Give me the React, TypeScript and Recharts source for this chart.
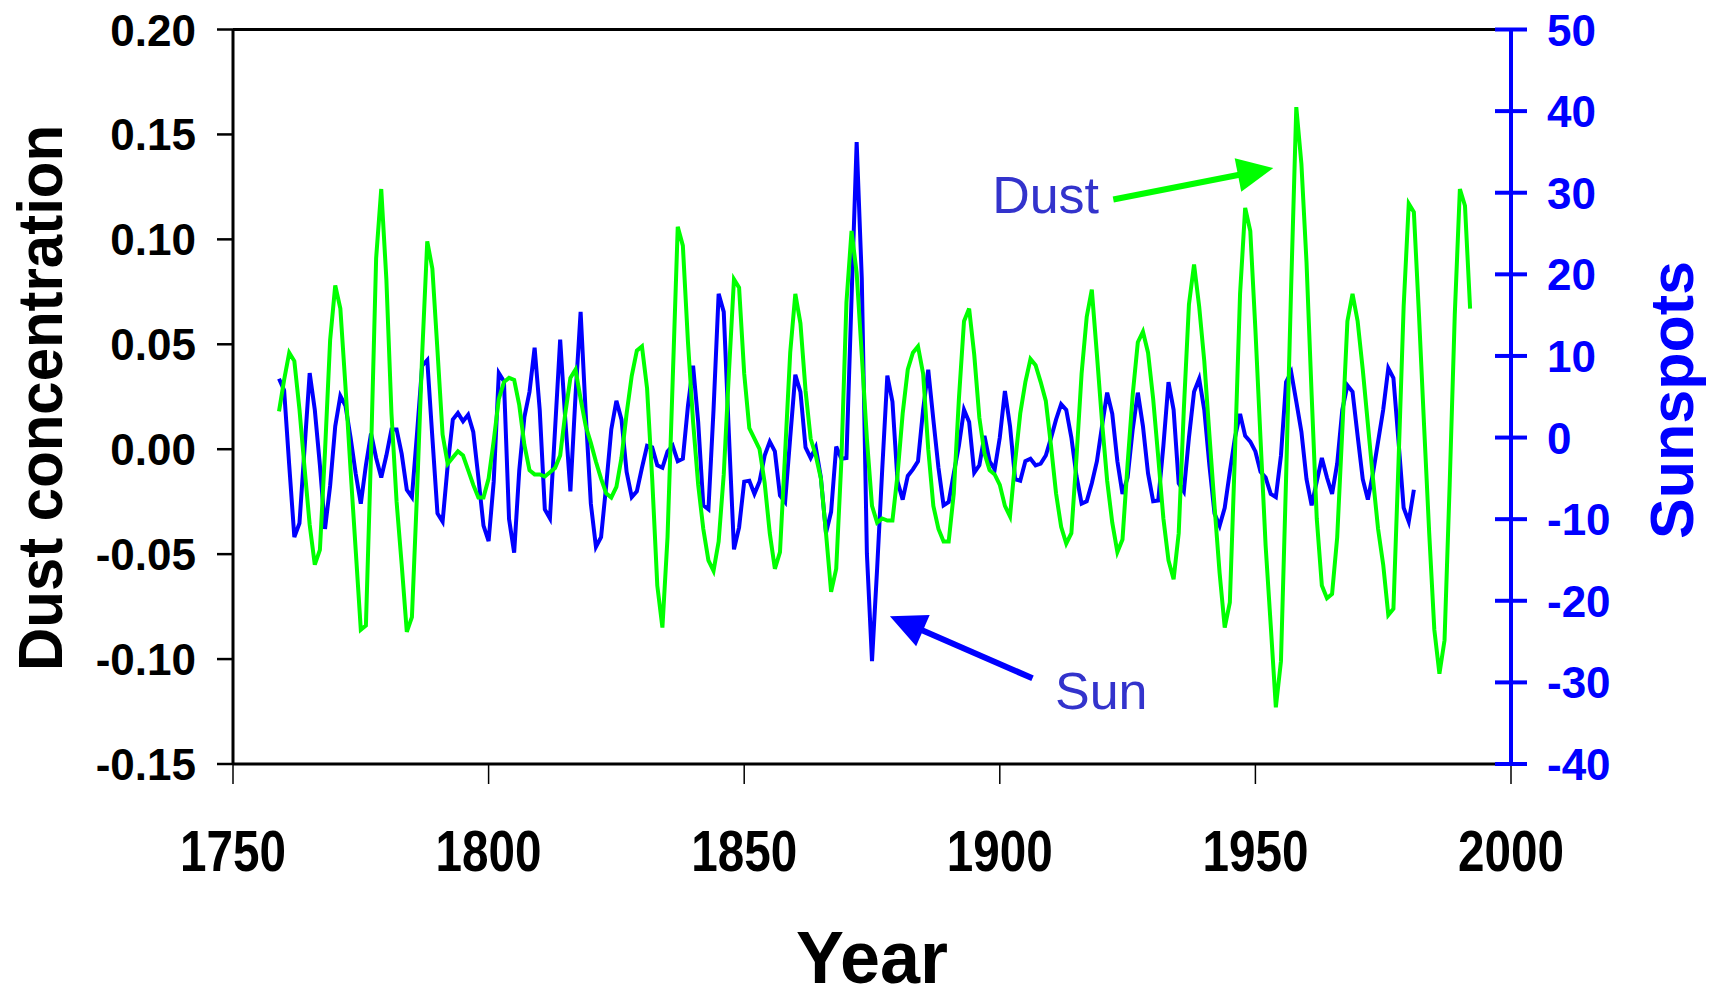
import {
  LineChart,
  Line,
  XAxis,
  YAxis,
  ReferenceLine,
  ReferenceDot,
} from "recharts";

const FONT = "'Liberation Sans', Arial, Helvetica, sans-serif";
const BLUE = "#0000ff";
const GREEN = "#00ff00";
const NOTE = "#3333cc";

// yearly values, first year 1759
const firstYear = 1759;

// dust concentration, 1759-1992
const dust = [
  0.018, 0.033, 0.046, 0.042, 0.019, -0.009, -0.036, -0.055, -0.048, -0.001,
  0.052, 0.078, 0.067, 0.030, -0.010, -0.048, -0.086, -0.084, -0.002, 0.091,
  0.124, 0.081, 0.017, -0.025, -0.055, -0.087, -0.080, -0.021, 0.045, 0.099,
  0.086, 0.047, 0.007, -0.007, -0.004, -0.001, -0.003, -0.010, -0.017, -0.023,
  -0.023, -0.014, 0.004, 0.024, 0.032, 0.034, 0.033, 0.021, 0.002, -0.010,
  -0.012, -0.012, -0.013, -0.011, -0.009, -0.003, 0.017, 0.034, 0.038, 0.024,
  0.011, 0.003, -0.006, -0.014, -0.021, -0.023, -0.018, -0.004, 0.017, 0.035,
  0.047, 0.049, 0.029, -0.014, -0.065, -0.085, -0.042, 0.032, 0.106, 0.097,
  0.051, 0.013, -0.017, -0.038, -0.053, -0.058, -0.044, -0.012, 0.036, 0.081,
  0.077, 0.036, 0.010, 0.005, 0.000, -0.016, -0.040, -0.057, -0.049, -0.002,
  0.046, 0.074, 0.060, 0.028, 0.005, -0.003, -0.014, -0.040, -0.068, -0.057,
  -0.006, 0.070, 0.104, 0.084, 0.045, 0.005, -0.027, -0.035, -0.033, -0.034,
  -0.034, -0.012, 0.017, 0.038, 0.046, 0.049, 0.036, 0.000, -0.027, -0.038,
  -0.044, -0.044, -0.021, 0.024, 0.061, 0.067, 0.045, 0.015, -0.002, -0.010,
  -0.012, -0.017, -0.027, -0.032, -0.006, 0.017, 0.032, 0.043, 0.040, 0.032,
  0.023, 0.002, -0.021, -0.037, -0.045, -0.040, -0.004, 0.036, 0.063, 0.076,
  0.045, 0.013, -0.015, -0.035, -0.049, -0.043, -0.007, 0.026, 0.051, 0.056,
  0.046, 0.024, -0.004, -0.033, -0.053, -0.062, -0.040, 0.019, 0.069, 0.088,
  0.068, 0.042, 0.007, -0.027, -0.059, -0.085, -0.073, -0.002, 0.074, 0.115,
  0.104, 0.057, 0.005, -0.046, -0.084, -0.123, -0.101, -0.014, 0.078, 0.163,
  0.136, 0.089, 0.026, -0.033, -0.065, -0.071, -0.069, -0.042, 0.009, 0.061,
  0.074, 0.061, 0.038, 0.012, -0.014, -0.038, -0.055, -0.079, -0.076, -0.006,
  0.068, 0.117, 0.113, 0.064, 0.011, -0.040, -0.086, -0.107, -0.091, -0.017,
  0.064, 0.124, 0.116, 0.067,
];

// sunspots, 1759-1981
const sunspots = [
  7.2, 5.8, -3.4, -12.2, -10.5, -1.3, 7.9, 3.4, -3.4, -11.2,
  -5.9, 1.4, 5.1, 3.9, 0.0, -4.4, -8.1, -3.4, 0.5, -2.5,
  -4.9, -2.2, 1.0, 1.0, -2.0, -6.4, -7.3, 0.5, 8.8, 9.5,
  0.0, -9.3, -10.3, -3.4, 2.2, 3.0, 2.0, 2.8, 0.7, -4.9,
  -10.8, -12.7, -5.4, 7.9, 6.9, -10.0, -14.1, -4.0, 2.5, 5.6,
  11.0, 3.4, -8.8, -9.9, 1.0, 12.0, 2.2, -6.6, 5.1, 15.4,
  2.9, -8.1, -13.4, -12.2, -5.9, 1.0, 4.5, 2.2, -4.2, -7.3,
  -6.6, -3.7, -1.0, -1.2, -3.4, -3.7, -1.7, -1.0, -2.9, -2.6,
  3.9, 8.8, 1.9, -8.3, -8.8, 3.4, 17.6, 15.4, 0.5, -13.7,
  -11.0, -5.4, -5.3, -6.9, -5.4, -2.2, -0.5, -1.7, -7.1, -7.9,
  0.0, 7.7, 5.6, -1.2, -2.5, -1.2, -4.9, -11.7, -9.1, -1.1,
  -2.6, -2.5, 17.1, 36.2, 19.5, -14.2, -27.4, -16.1, -3.9, 7.6,
  4.4, -5.4, -7.6, -4.7, -3.9, -2.9, 3.4, 8.3, 2.2, -3.7,
  -8.3, -7.9, -4.4, -1.0, 3.4, 1.9, -4.3, -3.4, 0.2, -2.9,
  -3.9, 0.0, 5.7, 1.4, -5.1, -5.3, -2.9, -2.6, -3.4, -3.2,
  -2.2, -0.1, 2.2, 4.1, 3.4, 0.0, -4.7, -8.1, -7.8, -5.6,
  -2.9, 1.4, 5.5, 2.9, -2.9, -6.9, -4.9, 1.0, 5.5, 1.4,
  -4.4, -7.8, -7.7, -1.0, 6.8, 3.4, -5.6, -6.6, 0.0, 5.6,
  7.2, 3.4, -3.4, -9.3, -10.8, -8.6, -4.2, 0.0, 2.9, 0.2,
  -0.5, -1.7, -4.2, -4.9, -6.9, -7.3, -2.2, 6.8, 8.0, 4.4,
  0.7, -5.1, -8.3, -5.4, -2.5, -4.9, -6.9, -3.2, 3.4, 6.4,
  5.6, 0.2, -5.1, -7.6, -4.4, -0.5, 3.4, 8.5, 7.3, -0.5,
  -8.6, -10.3, -6.4,
];

const yearTicks = [1750, 1800, 1850, 1900, 1950, 2000];
const dustTicks = [-0.15, -0.1, -0.05, 0, 0.05, 0.1, 0.15, 0.2];
const sunTicks = [-40, -30, -20, -10, 0, 10, 20, 30, 40, 50];

// annotation anchors (data units)
const dustArrow = [
  { x: 1922.2, y: 0.119 },
  { x: 1953.5, y: 0.134 },
];
const sunArrow = [
  { x: 1906.4, y: -29.5 },
  { x: 1878.5, y: -21.9 },
];
const dustNote = { x: 1898.5, y: 0.1126 };
const sunNote = { x: 1910.8, y: -33.3 };

const data = dust.map((d, i) => ({
  year: firstYear + i,
  dust: d,
  sun: i < sunspots.length ? sunspots[i] : null,
}));

const XTick = ({ x, y, payload }: any) => (
  <text
    x={x}
    y={y + 87}
    textAnchor="middle"
    fontFamily={FONT}
    fontWeight="bold"
    fontSize={58}
    textLength={106}
    lengthAdjust="spacingAndGlyphs"
    fill="#000"
  >
    {payload.value}
  </text>
);

const DustTick = ({ x, y, payload }: any) => (
  <text
    x={x}
    y={y + 16}
    textAnchor="end"
    fontFamily={FONT}
    fontWeight="bold"
    fontSize={44}
    fill="#000"
  >
    {payload.value.toFixed(2)}
  </text>
);

const SunTick = ({ x, y, payload }: any) => (
  <g>
    <line x1={x - 52} x2={x - 20} y1={y} y2={y} stroke={BLUE} strokeWidth={4} />
    <text
      x={x}
      y={y + 16}
      textAnchor="start"
      fontFamily={FONT}
      fontWeight="bold"
      fontSize={44}
      fill={BLUE}
    >
      {payload.value}
    </text>
  </g>
);

const arrowShape = (color: string) => (p: any) => {
  const { x1, y1, x2, y2 } = p;
  const dx = x2 - x1;
  const dy = y2 - y1;
  const len = Math.hypot(dx, dy) || 1;
  const ux = dx / len;
  const uy = dy / len;
  const head = 36;
  const half = 17;
  const bx = x2 - ux * head;
  const by = y2 - uy * head;
  return (
    <g>
      <line x1={x1} y1={y1} x2={bx + ux * 4} y2={by + uy * 4} stroke={color} strokeWidth={6} />
      <polygon
        points={`${x2},${y2} ${bx - uy * half},${by + ux * half} ${bx + uy * half},${by - ux * half}`}
        fill={color}
      />
    </g>
  );
};

const noteShape = (txt: string) => (p: any) => (
  <text x={p.cx} y={p.cy} fill={NOTE} fontFamily={FONT} fontSize={52}>
    {txt}
  </text>
);

export default function App() {
  return (
    <div
      style={{
        position: "absolute",
        left: 0,
        top: 0,
        width: 1711,
        height: 999,
        background: "#fff",
      }}
    >
      <LineChart
        width={1711}
        height={999}
        data={data}
        margin={{ top: 29.5, right: 50, bottom: 135, left: 83 }}
      >
        <XAxis
          dataKey="year"
          type="number"
          domain={[1750, 2000]}
          ticks={yearTicks}
          height={100}
          tickSize={20}
          tickMargin={0}
          axisLine={{ stroke: "#000", strokeWidth: 3 }}
          tickLine={{ stroke: "#000", strokeWidth: 1.5 }}
          tick={<XTick />}
          label={{
            content: () => (
              <text
                x={872}
                y={983}
                textAnchor="middle"
                fontFamily={FONT}
                fontWeight="bold"
                fontSize={75}
                textLength={152}
                lengthAdjust="spacingAndGlyphs"
                fill="#000"
              >
                Year
              </text>
            ),
          }}
        />
        <YAxis
          yAxisId="dust"
          type="number"
          domain={[-0.15, 0.2]}
          ticks={dustTicks}
          width={150}
          tickSize={16}
          tickMargin={21}
          axisLine={{ stroke: "#000", strokeWidth: 3 }}
          tickLine={{ stroke: "#000", strokeWidth: 2.5 }}
          tick={<DustTick />}
          label={{
            content: () => (
              <text
                x={62}
                y={398}
                transform="rotate(-90, 62, 398)"
                textAnchor="middle"
                fontFamily={FONT}
                fontWeight="bold"
                fontSize={63}
                textLength={546}
                lengthAdjust="spacingAndGlyphs"
                fill="#000"
              >
                Dust concentration
              </text>
            ),
          }}
        />
        <YAxis
          yAxisId="sun"
          orientation="right"
          type="number"
          domain={[-40, 50]}
          ticks={sunTicks}
          width={150}
          tickSize={16}
          tickMargin={20}
          axisLine={{ stroke: BLUE, strokeWidth: 4 }}
          tickLine={false}
          tick={<SunTick />}
          label={{
            content: () => (
              <text
                x={1693}
                y={400}
                transform="rotate(-90, 1693, 400)"
                textAnchor="middle"
                fontFamily={FONT}
                fontWeight="bold"
                fontSize={61}
                fill={BLUE}
              >
                Sunspots
              </text>
            ),
          }}
        />

        <ReferenceLine yAxisId="dust" y={0.2} stroke="#000" strokeWidth={3} />

        <Line
          yAxisId="sun"
          type="linear"
          dataKey="sun"
          stroke={BLUE}
          strokeWidth={4}
          dot={false}
          activeDot={false}
          isAnimationActive={false}
        />
        <Line
          yAxisId="dust"
          type="linear"
          dataKey="dust"
          stroke={GREEN}
          strokeWidth={4}
          dot={false}
          activeDot={false}
          isAnimationActive={false}
        />

        <ReferenceLine
          yAxisId="dust"
          segment={dustArrow}
          shape={arrowShape(GREEN)}
        />
        <ReferenceLine
          yAxisId="sun"
          segment={sunArrow}
          shape={arrowShape(BLUE)}
        />
        <ReferenceDot
          yAxisId="dust"
          x={dustNote.x}
          y={dustNote.y}
          shape={noteShape("Dust")}
        />
        <ReferenceDot
          yAxisId="sun"
          x={sunNote.x}
          y={sunNote.y}
          shape={noteShape("Sun")}
        />
      </LineChart>
    </div>
  );
}
